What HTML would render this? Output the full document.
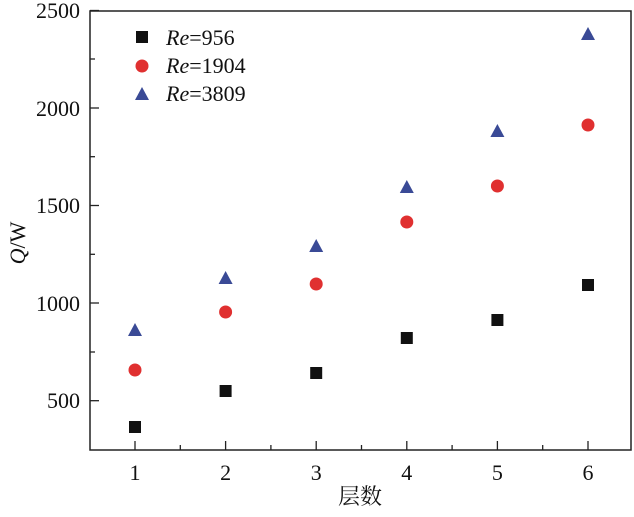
<!DOCTYPE html>
<html><head><meta charset="utf-8"><style>body{margin:0;background:#fff}</style></head><body>
<svg width="634" height="512" xmlns="http://www.w3.org/2000/svg" font-family="'Liberation Serif','Noto Serif CJK SC',serif" font-size="22">
<rect x="0" y="0" width="634" height="512" fill="#fff"/>
<rect x="90" y="11" width="541" height="439" fill="none" stroke="#222" stroke-width="1.5"/>
<g stroke="#222" stroke-width="1.3">
<line x1="90" y1="10.5" x2="99" y2="10.5"/><line x1="90" y1="108" x2="99" y2="108"/><line x1="90" y1="205.5" x2="99" y2="205.5"/><line x1="90" y1="303" x2="99" y2="303"/><line x1="90" y1="400.7" x2="99" y2="400.7"/>
<line x1="90" y1="59" x2="95" y2="59"/><line x1="90" y1="156.7" x2="95" y2="156.7"/><line x1="90" y1="254.3" x2="95" y2="254.3"/><line x1="90" y1="352" x2="95" y2="352"/>
<line x1="135" y1="441" x2="135" y2="450"/><line x1="225.6" y1="441" x2="225.6" y2="450"/><line x1="316.2" y1="441" x2="316.2" y2="450"/><line x1="406.8" y1="441" x2="406.8" y2="450"/><line x1="497.4" y1="441" x2="497.4" y2="450"/><line x1="588" y1="441" x2="588" y2="450"/>
<line x1="180.3" y1="445" x2="180.3" y2="450"/><line x1="270.9" y1="445" x2="270.9" y2="450"/><line x1="361.5" y1="445" x2="361.5" y2="450"/><line x1="452.1" y1="445" x2="452.1" y2="450"/><line x1="542.7" y1="445" x2="542.7" y2="450"/>
</g>
<g text-anchor="end" fill="#111">
<text x="80" y="18">2500</text><text x="80" y="116">2000</text><text x="80" y="213">1500</text><text x="80" y="311">1000</text><text x="80" y="408">500</text>
</g>
<g text-anchor="middle" fill="#111">
<text x="135" y="480">1</text><text x="225.6" y="480">2</text><text x="316.2" y="480">3</text><text x="406.8" y="480">4</text><text x="497.4" y="480">5</text><text x="588" y="480">6</text>
<text x="360" y="504" font-size="22">层数</text>
</g>
<text transform="translate(25,243) rotate(-90)" text-anchor="middle" fill="#111"><tspan font-style="italic">Q</tspan>/W</text>
<g fill="#111">
<rect x="129" y="421" width="12" height="12"/><rect x="219.6" y="385" width="12" height="12"/><rect x="310.2" y="367" width="12" height="12"/><rect x="400.8" y="332" width="12" height="12"/><rect x="491.4" y="314" width="12" height="12"/><rect x="582" y="279" width="12" height="12"/>
<rect x="136" y="31" width="12" height="12"/>
</g>
<g fill="#e03030">
<circle cx="135" cy="370" r="6.5"/><circle cx="225.6" cy="312" r="6.5"/><circle cx="316.2" cy="284" r="6.5"/><circle cx="406.8" cy="222" r="6.5"/><circle cx="497.4" cy="186" r="6.5"/><circle cx="588" cy="125" r="6.5"/>
<circle cx="142" cy="66" r="6.5"/>
</g>
<g fill="#3a4a96">
<polygon points="135,323 128,336 142,336"/><polygon points="225.6,271 218.6,284 232.6,284"/><polygon points="316.2,239 309.2,252 323.2,252"/><polygon points="406.8,180 399.8,193 413.8,193"/><polygon points="497.4,124 490.4,137 504.4,137"/><polygon points="588,27 581,40 595,40"/>
<polygon points="142,87 135,100 149,100"/>
</g>
<g fill="#111">
<text x="166" y="45"><tspan font-style="italic">Re</tspan>=956</text>
<text x="166" y="73"><tspan font-style="italic">Re</tspan>=1904</text>
<text x="166" y="101"><tspan font-style="italic">Re</tspan>=3809</text>
</g>
</svg>
</body></html>
